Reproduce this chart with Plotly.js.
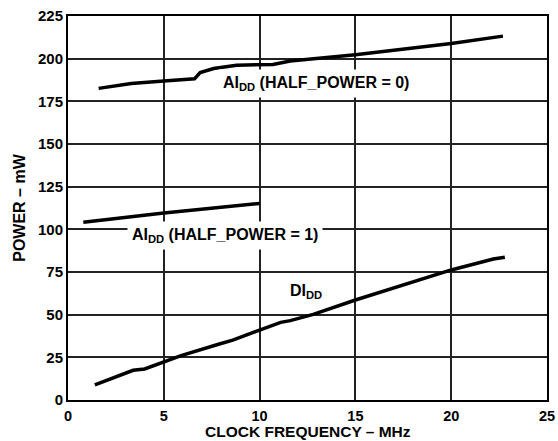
<!DOCTYPE html>
<html>
<head>
<meta charset="utf-8">
<script src="https://cdn.plot.ly/plotly-3.0.1.min.js"></script>
<style>html,body{margin:0;padding:0;background:#fff;}#chart{width:558px;height:441px;}</style>
</head>
<body>
<div id="chart"></div>
<script>
// Clock frequency (MHz) and power (mW)
var aiddHp0X = [1.6, 3.3, 5.0, 6.6, 6.9, 7.6, 8.8, 10.0, 10.7, 11.6, 15.0, 20.0, 22.7];
var aiddHp0Y = [182.6, 185.5, 186.9, 188.2, 191.9, 194.2, 196.2, 196.6, 196.6, 198.6, 202.3, 208.9, 213.2];

var aiddHp1X = [0.8, 5.0, 10.0];
var aiddHp1Y = [104.1, 109.6, 115.2];

var diddX = [1.4, 3.4, 4.0, 5.0, 5.9, 7.9, 8.6, 10.0, 11.1, 11.6, 12.8, 15.0, 20.0, 22.2, 22.8];
var diddY = [8.8, 17.4, 18.2, 22.2, 26.0, 32.8, 35.1, 41.0, 45.5, 46.5, 50.2, 58.6, 76.2, 82.6, 83.6];

var xTicks = [0, 5, 10, 15, 20, 25];
var yTicks = [0, 25, 50, 75, 100, 125, 150, 175, 200, 225];

var xTitle = 'CLOCK FREQUENCY – MHz';
var yTitle = 'POWER – mW';

var labelTexts = ['AI<sub>DD</sub> (HALF_POWER = 0)', 'AI<sub>DD</sub> (HALF_POWER = 1)', 'DI<sub>DD</sub>'];
var labelX = [12.95, 8.18, 12.42];
var labelY = [185.4, 96.4, 63.4];

var FONT = '"Liberation Sans", Arial, Helvetica, sans-serif';
var lineStyle = {color: '#000', width: 3.5};

var traces = [
  {x: aiddHp0X, y: aiddHp0Y, mode: 'lines', line: lineStyle, hoverinfo: 'skip'},
  {x: aiddHp1X, y: aiddHp1Y, mode: 'lines', line: lineStyle, hoverinfo: 'skip'},
  {x: diddX, y: diddY, mode: 'lines', line: lineStyle, hoverinfo: 'skip'}
];

var annotations = labelTexts.map(function (t, i) {
  return {
    x: labelX[i], y: labelY[i], xref: 'x', yref: 'y', text: '<b>' + t + '</b>',
    showarrow: false, bgcolor: i === 2 ? 'rgba(0,0,0,0)' : '#fff', borderpad: 4,
    font: {family: FONT, size: 16, color: '#000'}
  };
});
// x-axis title placed just below the tick labels, as in the reference
annotations.push({
  x: 0.5, y: -0.0833, xref: 'paper', yref: 'paper', xanchor: 'center', yanchor: 'middle',
  text: '<b>' + xTitle + '</b>', showarrow: false, borderpad: 0,
  font: {family: FONT, size: 15.5, color: '#000'}
});

var layout = {
  width: 558, height: 441,
  margin: {l: 67.5, r: 10.5, t: 16, b: 41, pad: 0},
  paper_bgcolor: '#fff', plot_bgcolor: '#fff',
  showlegend: false,
  font: {family: FONT, color: '#000'},
  xaxis: {
    range: [0, 25], tickvals: xTicks, ticktext: xTicks.map(function (v) { return '<b>' + v + '</b>'; }),
    showgrid: true, gridcolor: '#222', gridwidth: 2, zeroline: false,
    showline: true, linecolor: '#000', linewidth: 2, mirror: true,
    ticks: '', ticklabelstandoff: 2, tickfont: {family: FONT, size: 14.5, color: '#000'},
    fixedrange: true
  },
  yaxis: {
    range: [0, 225], tickvals: yTicks, ticktext: yTicks.map(function (v) { return '<b>' + v + '</b>'; }),
    showgrid: true, gridcolor: '#222', gridwidth: 2, zeroline: false,
    showline: true, linecolor: '#000', linewidth: 2, mirror: true,
    ticks: '', tickfont: {family: FONT, size: 15, color: '#000'},
    title: {text: '<b>' + yTitle + '</b>', font: {family: FONT, size: 16, color: '#000'}},
    fixedrange: true
  },
  annotations: annotations
};

Plotly.newPlot('chart', traces, layout, {staticPlot: true, displayModeBar: false});
</script>
</body>
</html>
